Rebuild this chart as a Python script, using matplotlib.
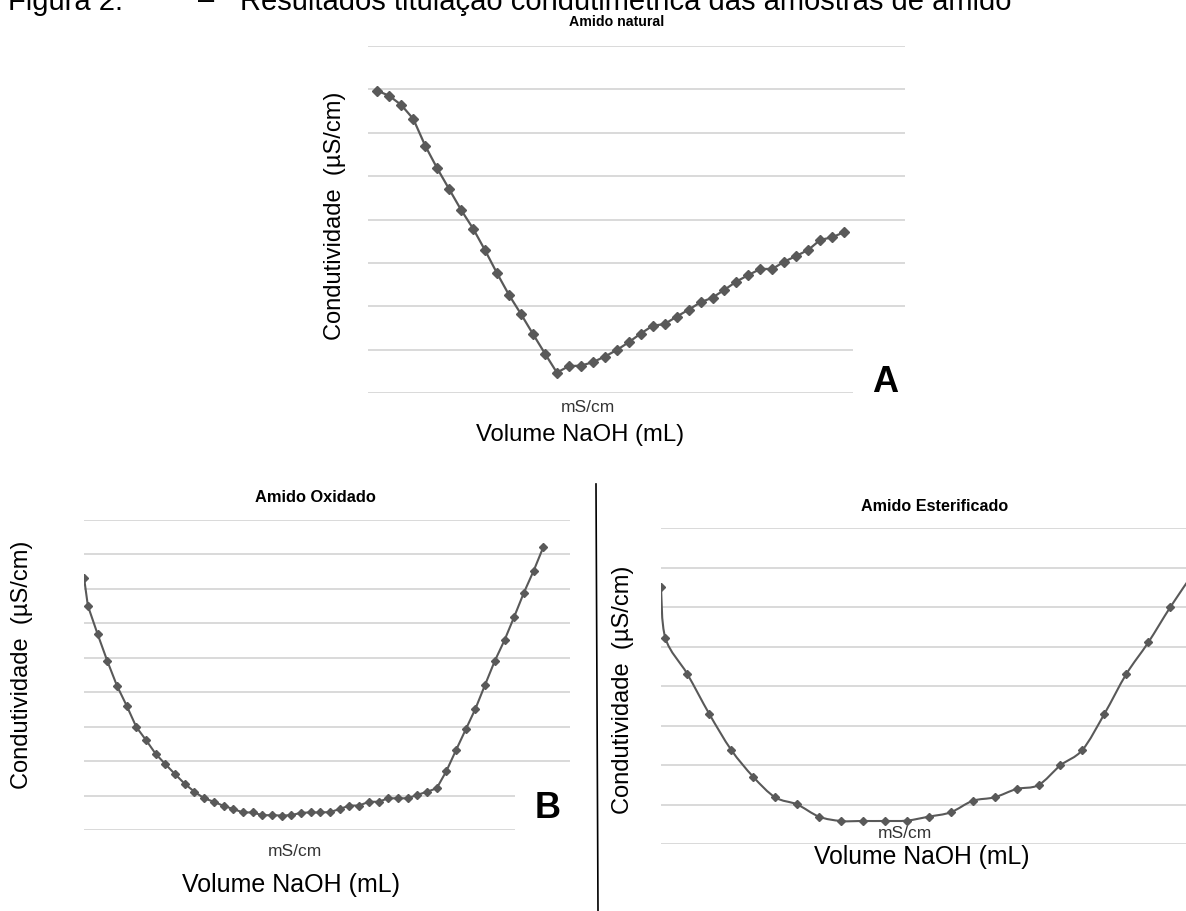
import matplotlib

matplotlib.use("Agg")
import matplotlib.pyplot as plt
import numpy as np
from matplotlib.path import Path
from matplotlib.patches import PathPatch, Rectangle

W, H = 1186, 911
LINE = "#595959"
GRID = "#d9d9d9"
FONT = "Liberation Sans"

# Amido natural: volume NaOH (mL) and conductivity (in gridline units)
vol_nat = [0.0, 0.5, 1.0, 1.5, 2.0, 2.5, 3.0, 3.5, 4.0, 4.5,
           5.0, 5.5, 6.0, 6.5, 7.0, 7.5, 8.0, 8.5, 9.0, 9.5,
           10.0, 10.5, 11.0, 11.5, 12.0, 12.5, 13.0, 13.5, 14.0, 14.5,
           15.0, 15.5, 16.0, 16.5, 17.0, 17.5, 18.0, 18.5, 19.0, 19.5]
cond_nat = [6.97, 6.85, 6.64, 6.32, 5.70, 5.18, 4.70, 4.22, 3.79, 3.29,
            2.76, 2.26, 1.82, 1.36, 0.91, 0.47, 0.62, 0.63, 0.71, 0.84,
            0.99, 1.17, 1.37, 1.55, 1.59, 1.76, 1.92, 2.09, 2.20, 2.38,
            2.57, 2.72, 2.86, 2.86, 3.03, 3.16, 3.30, 3.53, 3.59, 3.71]

# Amido oxidado
vol_oxi = [0.0, 0.2, 0.7, 1.2, 1.7, 2.2, 2.7, 3.2, 3.7, 4.2,
           4.7, 5.2, 5.7, 6.2, 6.7, 7.2, 7.7, 8.2, 8.7, 9.2,
           9.7, 10.2, 10.7, 11.2, 11.7, 12.2, 12.7, 13.2, 13.7, 14.2,
           14.7, 15.2, 15.7, 16.2, 16.7, 17.2, 17.7, 18.2, 18.7, 19.2,
           19.7, 20.2, 20.7, 21.2, 21.7, 22.2, 22.7, 23.2, 23.7]
cond_oxi = [7.33, 6.51, 5.69, 4.91, 4.19, 3.61, 2.99, 2.61, 2.21, 1.91,
            1.62, 1.34, 1.11, 0.92, 0.82, 0.70, 0.61, 0.51, 0.51, 0.43,
            0.43, 0.42, 0.43, 0.50, 0.51, 0.51, 0.52, 0.61, 0.71, 0.71,
            0.82, 0.82, 0.92, 0.92, 0.92, 1.02, 1.11, 1.21, 1.71, 2.32,
            2.92, 3.52, 4.22, 4.91, 5.51, 6.19, 6.89, 7.52, 8.21]

# Amido esterificado (last point lies past the cropped right edge)
vol_est = [0.0, 0.1, 0.6, 1.1, 1.6, 2.1, 2.6, 3.1, 3.6, 4.1,
           4.6, 5.1, 5.6, 6.1, 6.6, 7.1, 7.6, 8.1, 8.6, 9.1,
           9.6, 10.1, 10.6, 11.1, 11.6, 12.1]
cond_est = [6.51, 5.22, 4.31, 3.30, 2.39, 1.71, 1.19, 1.01, 0.70, 0.59,
            0.59, 0.59, 0.60, 0.70, 0.81, 1.10, 1.19, 1.40, 1.50, 2.00,
            2.39, 3.30, 4.31, 5.11, 6.00, 6.82]


def fx(px):
    return px / W


def fy(py):
    return 1 - py / H


def panel(rect, ngrid, xlim):
    ax = fig.add_axes(rect)
    ax.set_xlim(*xlim)
    ax.set_ylim(0, ngrid)
    ax.set_yticks(range(ngrid + 1))
    ax.set_xticks([])
    ax.tick_params(left=False, labelleft=False)
    for s in ax.spines.values():
        s.set_visible(False)
    ax.grid(axis="y", color=GRID, lw=1.4)
    ax.set_axisbelow(True)
    return ax


def smooth_path(x, y):
    # Excel-style smoothed line: cubic Bezier through every point
    p = np.column_stack([x, y]).astype(float)
    ext = np.vstack([p[0], p, p[-1]])
    verts = [p[0]]
    codes = [Path.MOVETO]
    for i in range(len(p) - 1):
        c1 = ext[i + 1] + (ext[i + 2] - ext[i]) / 6
        c2 = ext[i + 2] - (ext[i + 3] - ext[i + 1]) / 6
        verts += [c1, c2, p[i + 1]]
        codes += [Path.CURVE4] * 3
    return Path(verts, codes)


fig = plt.figure(figsize=(W / 100, H / 100), dpi=100)

# A
axA = panel([fx(368), fy(393), fx(905 - 368), (393 - 46) / H], 8, (-0.39, 22.04))
axA.plot(vol_nat, cond_nat, color=LINE, lw=1.6, marker="D", ms=4.6, mfc=LINE, mec=LINE)

# B
axB = panel([fx(84), fy(830), fx(570 - 84), (830 - 520) / H], 9, (0, 25.08))
axB.plot(vol_oxi, cond_oxi, color=LINE, lw=1.5, marker="D", ms=4.2, mfc=LINE, mec=LINE)

# C (runs past the right edge of the page crop)
axC = panel([fx(661), fy(844.3), fx(1240 - 661), (844.3 - 528.3) / H], 8, (0, 13.19))
axC.add_patch(PathPatch(smooth_path(vol_est, cond_est), fc="none", ec=LINE, lw=1.5))
axC.plot(vol_est, cond_est, ls="none", marker="D", ms=4.2, mfc=LINE, mec=LINE)

# white boxes of the panel letters hide the ends of the lower gridlines
for x0, y0, x1, y1 in [(853, 328, 915, 400), (515, 775, 580, 840)]:
    fig.patches.append(Rectangle((fx(x0), fy(y1)), fx(x1 - x0), (y1 - y0) / H,
                                 transform=fig.transFigure, fc="white", ec="none", zorder=2))

txt = dict(family=FONT, color="black")
fig.text(fx(8), fy(9.5), "Figura 2.", fontsize=21, ha="left", va="baseline", **txt)
fig.text(fx(198), fy(9.5), "–", fontsize=21, ha="left", va="baseline", **txt)
fig.text(fx(240), fy(9.5), "Resultados titulação condutimétrica das amostras de amido",
         fontsize=21, ha="left", va="baseline", **txt)

fig.text(fx(617), fy(22), "Amido natural", fontsize=10.2, weight="bold", ha="center", va="center", **txt)
fig.text(fx(315), fy(497), "Amido Oxidado", fontsize=11.8, weight="bold", ha="center", va="center", **txt)
fig.text(fx(935), fy(507), "Amido Esterificado", fontsize=11.6, weight="bold", ha="center", va="center", **txt)

for x, y in [(335, 216), (22, 665), (623, 690)]:
    fig.text(fx(x), fy(y), "Condutividade  (µS/cm)", fontsize=17, rotation=90,
             ha="center", va="center", **txt)
for x, y in [(588, 407), (295, 852), (905, 834)]:
    fig.text(fx(x), fy(y), "mS/cm", fontsize=12.5, ha="center", va="center", color="#333333", family=FONT)
for (x, y), fs in zip([(580, 435), (291, 885), (922, 857)], [17.2, 18, 17.8]):
    fig.text(fx(x), fy(y), "Volume NaOH (mL)", fontsize=fs, ha="center", va="center", **txt)

fig.text(fx(885), fy(382), "A", fontsize=26, weight="bold", ha="center", va="center", zorder=3, **txt)
fig.text(fx(548), fy(808), "B", fontsize=26, weight="bold", ha="center", va="center", zorder=3, **txt)

fig.add_artist(plt.Line2D([fx(596), fx(598)], [fy(484), fy(911)], color="black", lw=1.2,
                          transform=fig.transFigure))

fig.savefig("out.png", dpi=100)
